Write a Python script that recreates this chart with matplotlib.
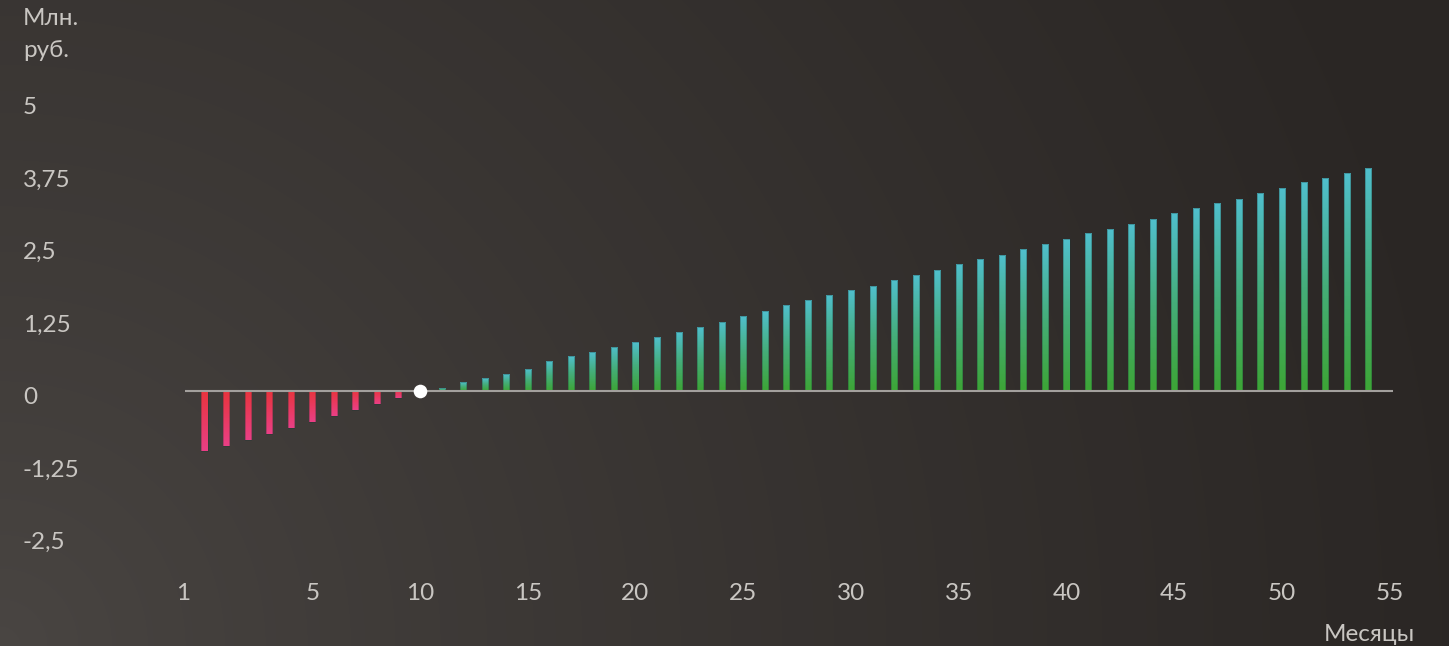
import numpy as np
import matplotlib
matplotlib.use("Agg")
import matplotlib.pyplot as plt
import matplotlib.transforms as mtransforms
from matplotlib.colors import LinearSegmentedColormap, to_rgb

# ---------------- data ----------------
slots = list(range(55))
values = [-1.047, -0.948, -0.845, -0.741, -0.638, -0.540, -0.443, -0.333, -0.229, -0.126,
          0.0,
          0.047, 0.145, 0.214, 0.293, 0.374, 0.507, 0.593, 0.667, 0.759, 0.834,
          0.921, 1.012, 1.103, 1.190, 1.293, 1.379, 1.472, 1.559, 1.645, 1.731,
          1.810, 1.903, 1.995, 2.086, 2.179, 2.266, 2.348, 2.443, 2.529, 2.616,
          2.714, 2.788, 2.869, 2.960, 3.059, 3.145, 3.231, 3.305, 3.403, 3.490,
          3.593, 3.662, 3.748, 3.834]
breakeven_slot = 10
y_ticks = [5, 3.75, 2.5, 1.25, 0, -1.25, -2.5]
y_labels = ["5", "3,75", "2,5", "1,25", "0", "-1,25", "-2,5"]
x_ticks = [-1, 5, 10, 15, 20, 25, 30, 35, 40, 45, 50, 55]
x_labels = ["1", "5", "10", "15", "20", "25", "30", "35", "40", "45", "50", "55"]
y_unit = "Млн.\nруб."
x_unit = "Месяцы"

# ---------------- figure ----------------
W, H, DPI = 1449, 646, 100
fig = plt.figure(figsize=(W / DPI, H / DPI), dpi=DPI)
TXT = "#c9c6c2"
FONT = ["Lato", "DejaVu Sans"]
FS = 17.5

# background radial gradient (lighter bottom-left, darker right)
bg = fig.add_axes([0, 0, 1, 1])
bg.set_axis_off()
yy, xx = np.mgrid[0:H, 0:W]
d = np.sqrt((xx - 0.0) ** 2 + ((H - yy) * 1.0) ** 2)
t = np.clip(d / 1500.0, 0, 1) ** 0.8
c0 = np.array(to_rgb("#4a4643"))
c1 = np.array(to_rgb("#2a2624"))
img = c0[None, None, :] * (1 - t[..., None]) + c1[None, None, :] * t[..., None]
bg.imshow(img, extent=[0, 1, 0, 1], aspect="auto", origin="upper")
bg.set_xlim(0, 1)
bg.set_ylim(0, 1)

ax = fig.add_axes([0, 0, 1, 1])
ax.set_axis_off()
ax.patch.set_alpha(0)
px_per_slot = 21.55
x0_px = 204.5
px_per_unit = 58.0
zero_px_from_bottom = H - 390.7
ax.set_xlim(-x0_px / px_per_slot, (W - x0_px) / px_per_slot)
ax.set_ylim(-zero_px_from_bottom / px_per_unit, (H - zero_px_from_bottom) / px_per_unit)

green_cmap = LinearSegmentedColormap.from_list("g", ["#3da535", "#45ad7a", "#50bfcd"])
red_cmap = LinearSegmentedColormap.from_list("r", ["#e8343c", "#ea4086"])

bw = 0.28
grad = np.linspace(0, 1, 256).reshape(-1, 1)
for s, v in zip(slots, values):
    if s == breakeven_slot or v == 0:
        continue
    bar = ax.bar(s, v, width=bw, color="none", edgecolor="none", zorder=2)[0]
    if v > 0:
        im = ax.imshow(grad, cmap=green_cmap, origin="lower", aspect="auto",
                       extent=[s - bw / 2, s + bw / 2, 0, v], zorder=2)
    else:
        im = ax.imshow(grad, cmap=red_cmap, origin="upper", aspect="auto",
                       extent=[s - bw / 2, s + bw / 2, v, 0], zorder=2)
    im.set_clip_path(bar)
    ax.bar(s, v, width=bw, color="none", edgecolor=(0.1, 0.2, 0.2, 0.35), linewidth=0.6, zorder=3)

# reset limits after imshow
ax.set_xlim(-x0_px / px_per_slot, (W - x0_px) / px_per_slot)
ax.set_ylim(-zero_px_from_bottom / px_per_unit, (H - zero_px_from_bottom) / px_per_unit)

ax.hlines(0, slots[0] - 0.9, slots[-1] + 1.15, color="#a3a09d", linewidth=1.5, zorder=4)
ax.plot([slots[breakeven_slot]], [values[breakeven_slot]], "o", color="white",
        markersize=9.8, markeredgewidth=0, zorder=5)

# y tick labels
ty = mtransforms.blended_transform_factory(fig.transFigure, ax.transData)
ty = mtransforms.offset_copy(ty, fig=fig, x=0, y=-13.6, units="dots")
for v, lab in zip(y_ticks, y_labels):
    ax.text(23 / W, v, lab, transform=ty, ha="left", va="baseline",
            color=TXT, fontsize=FS, family=FONT)

# x tick labels
tx = mtransforms.blended_transform_factory(ax.transData, fig.transFigure)
for xv, lab in zip(x_ticks, x_labels):
    ax.text(xv, 1 - 600 / H, lab, transform=tx, ha="center", va="baseline",
            color=TXT, fontsize=FS, family=FONT)

# unit labels
fig.text(23 / W, 1 - 25 / H, y_unit.split("\n")[0], ha="left", va="baseline",
         color=TXT, fontsize=FS, family=FONT)
fig.text(23 / W, 1 - 56.7 / H, y_unit.split("\n")[1], ha="left", va="baseline",
         color=TXT, fontsize=FS, family=FONT)
fig.text(1415 / W, 1 - 640.7 / H, x_unit, ha="right", va="baseline",
         color=TXT, fontsize=FS, family=FONT)

fig.savefig("out.png", dpi=DPI)
